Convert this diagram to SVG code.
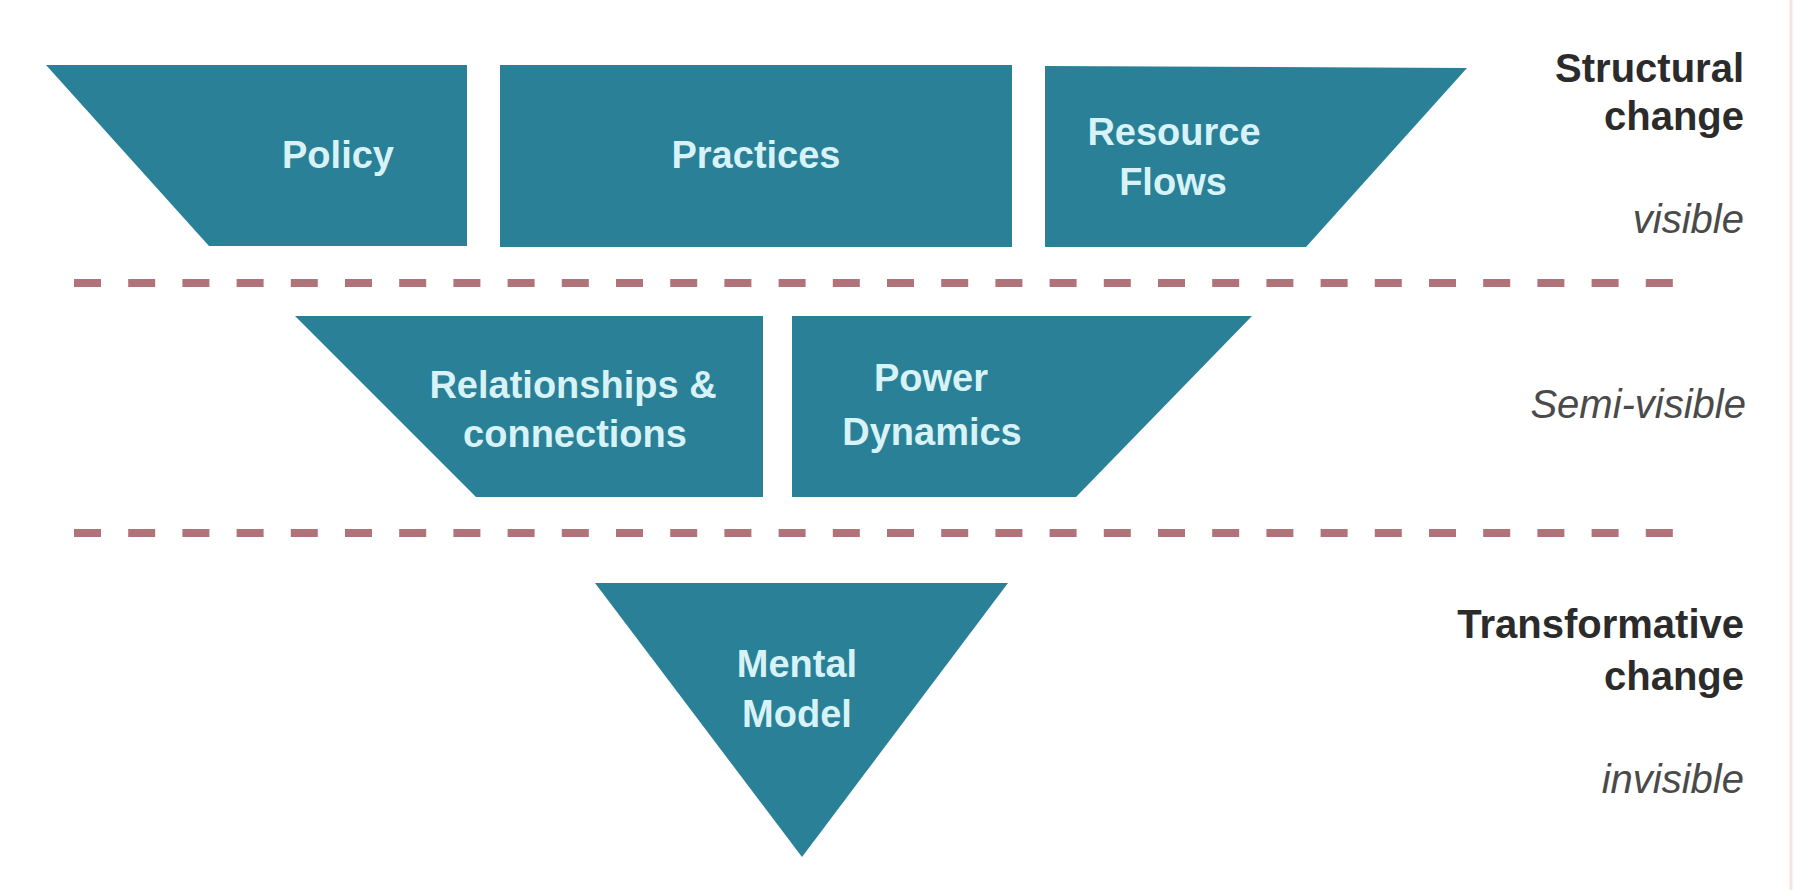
<svg xmlns="http://www.w3.org/2000/svg" width="1794" height="890" viewBox="0 0 1794 890">
  <style>
    .shape { fill: #2a8097; }
    .lbl { font-family: "Liberation Sans", Arial, sans-serif; font-weight: 700; font-size: 38px; fill: #d8f3f7; text-anchor: middle; }
    .side-b { font-family: "Liberation Sans", Arial, sans-serif; font-weight: 700; font-size: 40px; fill: #2b2b2b; text-anchor: end; }
    .side-i { font-family: "Liberation Sans", Arial, sans-serif; font-style: italic; font-size: 40px; fill: #4a4a4a; text-anchor: end; }
    .divider { stroke: #b0737a; stroke-width: 8; stroke-dasharray: 27 27.2; fill: none; }
  </style>
  <rect x="0" y="0" width="1794" height="890" fill="#ffffff"/>
  <line x1="1791" y1="0" x2="1791" y2="890" stroke="#f6e4e4" stroke-width="3"/>

  <g id="connectors">
    <line class="divider" x1="74" y1="283" x2="1673" y2="283"/>
    <line class="divider" x1="74" y1="533" x2="1673" y2="533"/>
  </g>

  <g id="policy">
    <polygon class="shape" points="46,65 467,65 467,246 209,246"/>
    <text class="lbl" x="338" y="168">Policy</text>
  </g>
  <g id="practices">
    <polygon class="shape" points="500,65 1012,65 1012,247 500,247"/>
    <text class="lbl" x="756" y="168">Practices</text>
  </g>
  <g id="resource-flows">
    <polygon class="shape" points="1045,66 1467,68 1306,247 1045,247"/>
    <text class="lbl" x="1174" y="145">Resource</text>
    <text class="lbl" x="1173" y="195">Flows</text>
  </g>
  <g id="relationships">
    <polygon class="shape" points="295,316 763,316 763,497 476,497"/>
    <text class="lbl" x="573" y="398">Relationships &amp;</text>
    <text class="lbl" x="575" y="447">connections</text>
  </g>
  <g id="power-dynamics">
    <polygon class="shape" points="792,316 1252,316 1076,497 792,497"/>
    <text class="lbl" x="931" y="391">Power</text>
    <text class="lbl" x="932" y="445">Dynamics</text>
  </g>
  <g id="mental-model">
    <polygon class="shape" points="595,583 1008,583 802,857"/>
    <text class="lbl" x="797" y="677">Mental</text>
    <text class="lbl" x="797" y="727">Model</text>
  </g>

  <g id="side-labels">
    <text class="side-b" x="1744" y="82">Structural</text>
    <text class="side-b" x="1744" y="130">change</text>
    <text class="side-i" x="1744" y="233">visible</text>
    <text class="side-i" x="1746" y="418">Semi-visible</text>
    <text class="side-b" x="1744" y="638">Transformative</text>
    <text class="side-b" x="1744" y="690">change</text>
    <text class="side-i" x="1744" y="793">invisible</text>
  </g>
</svg>
